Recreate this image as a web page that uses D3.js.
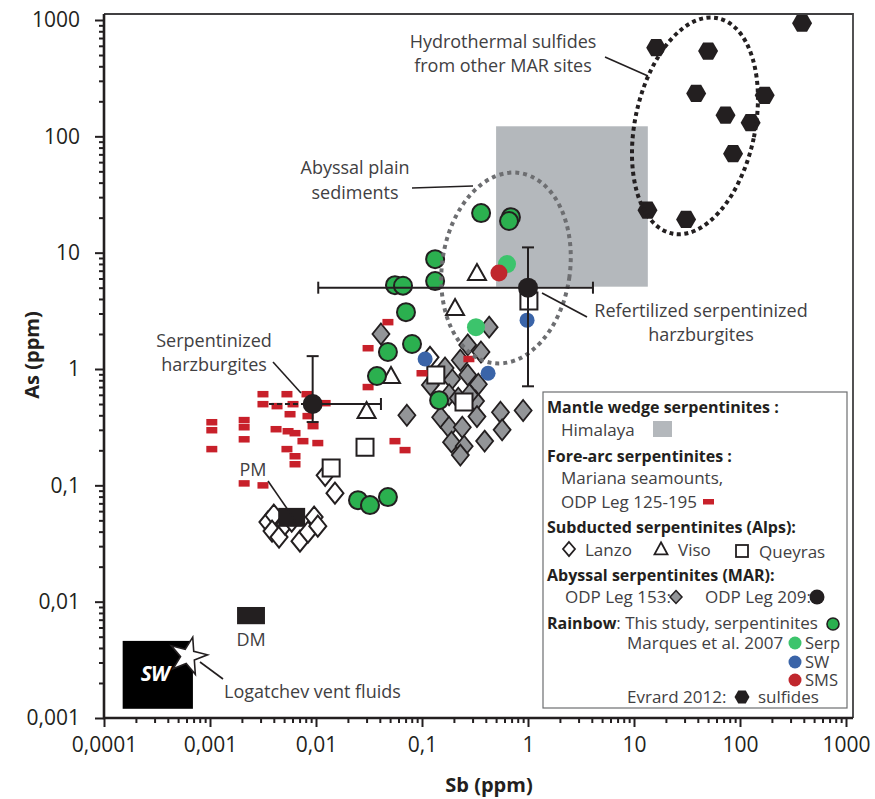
<!DOCTYPE html>
<html><head><meta charset="utf-8">
<script src="https://cdn.jsdelivr.net/npm/d3@7"></script>
<style>
body{margin:0;background:#fff}
svg{display:block}
text{font-family:"Open Sans",sans-serif}
</style>
</head><body>
<svg id="c" width="875" height="799"></svg>
<script>
// ---------- DATA (Sb ppm, As ppm) ----------
const xTickValues = [0.0001,0.001,0.01,0.1,1,10,100,1000];
const xTickLabels = ["0,0001","0,001","0,01","0,1","1","10","100","1000"];
const yTickValues = [0.001,0.01,0.1,1,10,100,1000];
const yTickLabels = ["0,001","0,01","0,1","1","10","100","1000"];

const himalayaSb = [0.5, 13.5], himalayaAs = [5.1, 122];
const swSb = [0.00015, 0.00069], swAs = [0.0012, 0.0046];
const dmSb = [0.0018, 0.0033], dmAs = [0.0064, 0.009];
const pmSb = [0.0044, 0.0079], pmAs = [0.044, 0.064];
const logatchev = [0.00062, 0.0034];

const mariana = [
 [0.00316,0.608],[0.00532,0.608],[0.00822,0.608],[0.00316,0.499],[0.00429,0.48],[0.00607,0.499],
 [0.0122,0.509],[0.00569,0.409],[0.0084,0.394],[0.00938,0.323],[0.00104,0.349],[0.00104,0.298],
 [0.00104,0.205],[0.0021,0.364],[0.0021,0.316],[0.0021,0.249],[0.0042,0.304],[0.00545,0.292],
 [0.00634,0.281],[0.00753,0.24],[0.0104,0.231],[0.00532,0.205],[0.00634,0.178],[0.00634,0.152],
 [0.0021,0.104],[0.00316,0.10],[0.0556,0.24],[0.0692,0.201],[0.031,0.70],[0.031,1.51],
 [0.0477,2.53],[0.10,0.92],[0.277,1.22]
];
const lanzo = [
 [0.0122,0.122],[0.0151,0.0857],[0.00352,0.0483],[0.0040,0.0555],[0.00385,0.0404],[0.00448,0.0359],
 [0.00706,0.0331],[0.0084,0.0396],[0.0096,0.0533],[0.0104,0.0446],[0.0051,0.0464],[0.0059,0.0492],
 [0.119,1.26]
];
const viso = [[0.33,6.7],[0.205,3.34],[0.051,0.87],[0.030,0.435]];
const queyras = [[1.02,3.84],[0.135,0.89],[0.249,0.52],[0.029,0.213],[0.0139,0.141]];
const odp153 = [
 [0.041,2.0],[0.43,2.29],[0.27,1.61],[0.36,1.40],[0.23,1.19],[0.27,0.89],[0.34,0.74],[0.19,0.82],
 [0.165,1.02],[0.12,0.73],[0.32,0.53],[0.18,0.60],[0.55,0.425],[0.90,0.44],[0.33,0.39],[0.15,0.385],
 [0.18,0.316],[0.24,0.316],[0.072,0.40],[0.57,0.30],[0.39,0.24],[0.19,0.235],[0.25,0.217],[0.23,0.182],
 [0.22,0.56],[0.28,0.60]
];
const thisStudy = [
 [0.361,21.9],[0.69,20.2],[0.662,18.7],[0.133,8.8],[0.133,5.7],[0.0556,5.26],[0.0662,5.2],[0.0706,3.08],
 [0.0477,1.40],[0.0805,1.64],[0.0376,0.87],[0.145,0.54],[0.0249,0.0746],[0.0323,0.0676],[0.0477,0.0792]
];
const marquesSerp = [[0.634,7.98],[0.323,2.29]];
const marquesSW = [[0.98,2.63],[0.107,1.22],[0.42,0.92]];
const marquesSMS = [[0.532,6.68]];
const sulfides = [
 [385,940],[16.2,578],[50,541],[38.6,234],[171,225],[73,152],[126,131],[86,71],[13.4,23.2],[31,19.3]
];
// ODP Leg 209 averages with ranges
const odp209Sb = [1.0, 0.0093];
const odp209As = [5.0, 0.5];
const odp209SbRange = [[0.0105, 4.1],[0.0036, 0.041]];
const odp209AsRange = [[0.71, 11.1],[0.35, 1.29]];
// fields (centre in data units, half-axes in log decades)
const sulfideField = {sb:37.6, as:123, dSb:0.566, dAs:0.946};
const sedimentField = {sb:0.62, as:7.38, dSb:0.604, dAs:0.825};

// ---------- CHART ----------
const svg = d3.select("#c");
const x = d3.scaleLog().domain([1e-4,1e3]).range([104,846]);
const y = d3.scaleLog().domain([1e-3,1e3]).range([718,20]);
const X0 = x.range()[0], Y0 = y.range()[0];
const XR = x.range()[1] + 7, YT = y.range()[1] - 6;
const ink = "#231f20", txt = "#414042";

const g = svg.append("g");

function box(sb, as, fill){
  return g.append("rect").attr("x", x(sb[0])).attr("y", y(as[1]))
    .attr("width", x(sb[1]) - x(sb[0])).attr("height", y(as[0]) - y(as[1])).attr("fill", fill);
}
box(himalayaSb, himalayaAs, "#b4b8bc");
box(swSb, swAs, "#000");
box(dmSb, dmAs, ink);

const diamond = (w,h) => `M0,${-h}L${w},0L0,${h}L${-w},0Z`;
const tri = (w,h) => `M0,${-h*0.56}L${w},${h*0.44}L${-w},${h*0.44}Z`;
const hexPath = r => d3.range(6).map(i => {const a=i*Math.PI/3; return (i?"L":"M")+(r*Math.cos(a)).toFixed(2)+","+(r*Math.sin(a)).toFixed(2);}).join("")+"Z";

function sym(data, path, fill, stroke, sw){
  g.append("g").selectAll("path").data(data).join("path")
    .attr("d", path).attr("transform", d => `translate(${x(d[0])},${y(d[1])})`)
    .attr("fill", fill).attr("stroke", stroke).attr("stroke-width", sw).attr("stroke-linejoin","miter");
}
function dots(data, r, fill, stroke, sw){
  g.append("g").selectAll("circle").data(data).join("circle")
    .attr("cx", d => x(d[0])).attr("cy", d => y(d[1])).attr("r", r)
    .attr("fill", fill).attr("stroke", stroke || "none").attr("stroke-width", sw || 0);
}

sym(odp153, diamond(8.5,10.5), "#939598", ink, 1.8);
sym(lanzo, diamond(8.5,10.5), "#fff", ink, 2);
box(pmSb, pmAs, ink);
sym(queyras, "M-8.5,-8.5h17v17h-17Z", "#fff", ink, 2);
sym(viso, tri(9,16), "#fff", ink, 2);
g.append("g").selectAll("rect").data(mariana).join("rect")
  .attr("x", d => x(d[0]) - 5.5).attr("y", d => y(d[1]) - 3.2)
  .attr("width", 11).attr("height", 6.5).attr("fill", "#c8202a");
dots(thisStudy, 9, "#2bb04f", ink, 2);
dots(marquesSerp, 9, "#3cc46c");
dots(marquesSW, 7.5, "#3a64a8");
dots(marquesSMS, 8.5, "#c0272d");
sym(sulfides, hexPath(10), ink, "none", 0);

// star (Logatchev vent fluids)
g.append("path").attr("d", d3.symbol(d3.symbolStar, 430)())
  .attr("transform", `translate(${x(logatchev[0])},${y(logatchev[1])}) rotate(14)`)
  .attr("fill", "#fff").attr("stroke", ink).attr("stroke-width", 1.6);

// fields
function field(f, rot, color, dash){
  const rx = x(f.sb * Math.pow(10, f.dSb)) - x(f.sb);
  const ry = y(f.as) - y(f.as * Math.pow(10, f.dAs));
  g.append("ellipse").attr("cx", 0).attr("cy", 0).attr("rx", rx).attr("ry", ry)
    .attr("transform", `translate(${x(f.sb)},${y(f.as)}) rotate(${rot})`)
    .attr("fill", "none").attr("stroke", color).attr("stroke-width", 4).attr("stroke-dasharray", dash);
}
field(sedimentField, 8, "#6d6e71", "4 4");
field(sulfideField, 12, ink, "4 3.5");

// error bars + means
odp209Sb.forEach((sb, i) => {
  const cx = x(sb), cy = y(odp209As[i]);
  const [aLo, aHi] = odp209AsRange[i], [sLo, sHi] = odp209SbRange[i];
  const L = (x1,y1,x2,y2,dash) => g.append("line").attr("x1",x1).attr("y1",y1).attr("x2",x2).attr("y2",y2)
      .attr("stroke", ink).attr("stroke-width", 2).attr("stroke-dasharray", dash || null);
  L(cx, y(aHi), cx, y(aLo));
  L(cx-6, y(aHi), cx+6, y(aHi)); L(cx-6, y(aLo), cx+6, y(aLo));
  L(cx, cy, x(sHi), cy); L(x(sHi), cy-6, x(sHi), cy+6);
  if (i === 1) { L(x(sLo), cy, cx, cy, "5 3"); }
  else { L(x(sLo), cy, cx, cy); L(x(sLo), cy-6, x(sLo), cy+6); }
  g.append("circle").attr("cx", cx).attr("cy", cy).attr("r", 10).attr("fill", ink);
});

// ---------- AXES ----------
const minorX = x.ticks().filter(v => !xTickValues.some(t => Math.abs(t - v) / t < 1e-6));
const minorY = y.ticks().filter(v => !yTickValues.some(t => Math.abs(t - v) / t < 1e-6));

function styleAxis(sel){
  sel.select(".domain").remove();
  sel.selectAll(".tick line").attr("stroke", ink).attr("stroke-width", 2);
  sel.selectAll(".tick text").attr("fill", ink).style("font-size", "21px").style("font-family", '"Open Sans",sans-serif');
}
svg.append("g").attr("transform", `translate(0,${Y0})`)
  .call(d3.axisBottom(x).tickValues(minorX).tickSize(5).tickFormat("").tickSizeOuter(0)).call(styleAxis);
svg.append("g").attr("transform", `translate(0,${Y0})`)
  .call(d3.axisBottom(x).tickValues(xTickValues).tickSize(9).tickPadding(10).tickSizeOuter(0)
    .tickFormat((d,i) => xTickLabels[i])).call(styleAxis);
svg.append("g").attr("transform", `translate(${X0},0)`)
  .call(d3.axisLeft(y).tickValues(minorY).tickSize(5).tickFormat("").tickSizeOuter(0)).call(styleAxis);
svg.append("g").attr("transform", `translate(${X0},0)`)
  .call(d3.axisLeft(y).tickValues(yTickValues).tickSize(9).tickPadding(15).tickSizeOuter(0)
    .tickFormat((d,i) => yTickLabels[i])).call(styleAxis);

// frame
svg.append("path").attr("d", `M${X0},${YT}H${XR}V${Y0}`).attr("fill","none").attr("stroke","#414042").attr("stroke-width",1.8);
svg.append("path").attr("d", `M${X0},${YT}V${Y0}H${XR}`).attr("fill","none").attr("stroke",ink).attr("stroke-width",2.6);

// axis titles
svg.append("text").attr("x", 489).attr("y", 792).attr("text-anchor","middle")
  .style("font-size","20px").style("font-weight","bold").attr("fill",ink).text("Sb (ppm)");
svg.append("text").attr("transform","translate(39,355) rotate(-90)").attr("text-anchor","middle")
  .style("font-size","20px").style("font-weight","bold").attr("fill",ink).text("As (ppm)");

// ---------- ANNOTATIONS ----------
function label(lines, cx, y0, dy, anchor){
  const t = svg.append("text").attr("text-anchor", anchor || "middle").attr("fill", txt).style("font-size","18px");
  lines.forEach((s,i) => t.append("tspan").attr("x", cx).attr("y", y0 + i*dy).text(s));
}
function lead(x1,y1,x2,y2){ svg.append("line").attr("x1",x1).attr("y1",y1).attr("x2",x2).attr("y2",y2).attr("stroke",ink).attr("stroke-width",1.6); }

label(["Hydrothermal sulfides","from other MAR sites"], 503, 48, 23.5);
lead(605,57,648,76);
label(["Abyssal plain","sediments"], 355, 174, 24.5);
lead(412,188,473,186);
label(["Serpentinized","harzburgites"], 214, 347, 23.5);
lead(273,362,301,393);
label(["Refertilized serpentinized","harzburgites"], 701, 317, 23.5);
lead(542,293,587,317);
label(["PM"], 253, 476, 0);
lead(268,481,297,523);
label(["DM"], 251, 646, 0);
label(["Logatchev vent fluids"], 224, 698, 0, "start");
lead(200,662,223,679);
svg.append("text").attr("x", (x(swSb[0])+x(swSb[1]))/2 - 3).attr("y", 681).attr("text-anchor","middle")
  .attr("fill","#fff").style("font-size","21px").style("font-weight","bold").style("font-style","italic")
  .style("letter-spacing","-1px").text("SW");

// ---------- LEGEND ----------
const lg = svg.append("g");
lg.append("rect").attr("x",543).attr("y",392).attr("width",304).attr("height",316)
  .attr("fill","#fff").attr("stroke","#6d6e71").attr("stroke-width",1.2);
function lt(s, xx, yy, bold, size){
  return lg.append("text").attr("x",xx).attr("y",yy).attr("fill", bold ? ink : txt)
    .style("font-size", size || (bold ? "16px" : "17px")).style("font-weight", bold ? "bold" : "normal").text(s);
}
lt("Mantle wedge serpentinites :", 547, 413, true);
lt("Himalaya", 561, 436);
lg.append("rect").attr("x",653).attr("y",421).attr("width",19).attr("height",16).attr("fill","#b4b8bc");
lt("Fore-arc serpentinites :", 547, 462, true);
lt("Mariana seamounts,", 561, 484);
lt("ODP Leg 125-195", 561, 508);
lg.append("rect").attr("x",703).attr("y",499).attr("width",11).attr("height",5.5).attr("fill","#c8202a");
lt("Subducted serpentinites (Alps):", 547, 533, true);
lg.append("path").attr("d",diamond(6,7)).attr("transform","translate(569,549)").attr("fill","#fff").attr("stroke",ink).attr("stroke-width",1.8);
lt("Lanzo", 585, 556);
lg.append("path").attr("d",tri(6.5,12)).attr("transform","translate(661,549)").attr("fill","#fff").attr("stroke",ink).attr("stroke-width",1.8);
lt("Viso", 678, 556);
lg.append("rect").attr("x",736).attr("y",545).attr("width",12).attr("height",12).attr("fill","#fff").attr("stroke",ink).attr("stroke-width",1.8);
lt("Queyras", 759, 558);
lt("Abyssal serpentinites (MAR):", 547, 581, true);
lt("ODP Leg 153:", 565, 603);
lg.append("path").attr("d",diamond(6,6.5)).attr("transform","translate(676,597)").attr("fill","#939598").attr("stroke",ink).attr("stroke-width",1.5);
lt("ODP Leg 209:", 705, 603);
lg.append("circle").attr("cx",817).attr("cy",597).attr("r",7.5).attr("fill",ink);
const rb = lg.append("text").attr("x",547).attr("y",629).style("font-size","17px").attr("fill",txt);
rb.append("tspan").style("font-weight","bold").style("font-size","16px").attr("fill",ink).text("Rainbow");
rb.append("tspan").text(": This study, serpentinites");
lg.append("circle").attr("cx",833).attr("cy",624).attr("r",6).attr("fill","#2bb04f").attr("stroke",ink).attr("stroke-width",1.6);
lt("Marques et al. 2007", 627, 649);
lg.append("circle").attr("cx",795).attr("cy",643).attr("r",6.5).attr("fill","#3cc46c");
lt("Serp", 805, 649, false, "16.5px");
lg.append("circle").attr("cx",795).attr("cy",662).attr("r",6.5).attr("fill","#3a64a8");
lt("SW", 805, 668, false, "16.5px");
lg.append("circle").attr("cx",795).attr("cy",680).attr("r",6.5).attr("fill","#c0272d");
lt("SMS", 805, 686, false, "16.5px");
lt("Evrard 2012:", 627, 703);
lg.append("path").attr("d",hexPath(7.5)).attr("transform","translate(742,697)").attr("fill",ink);
lt("sulfides", 758, 703);
</script>
</body></html>
